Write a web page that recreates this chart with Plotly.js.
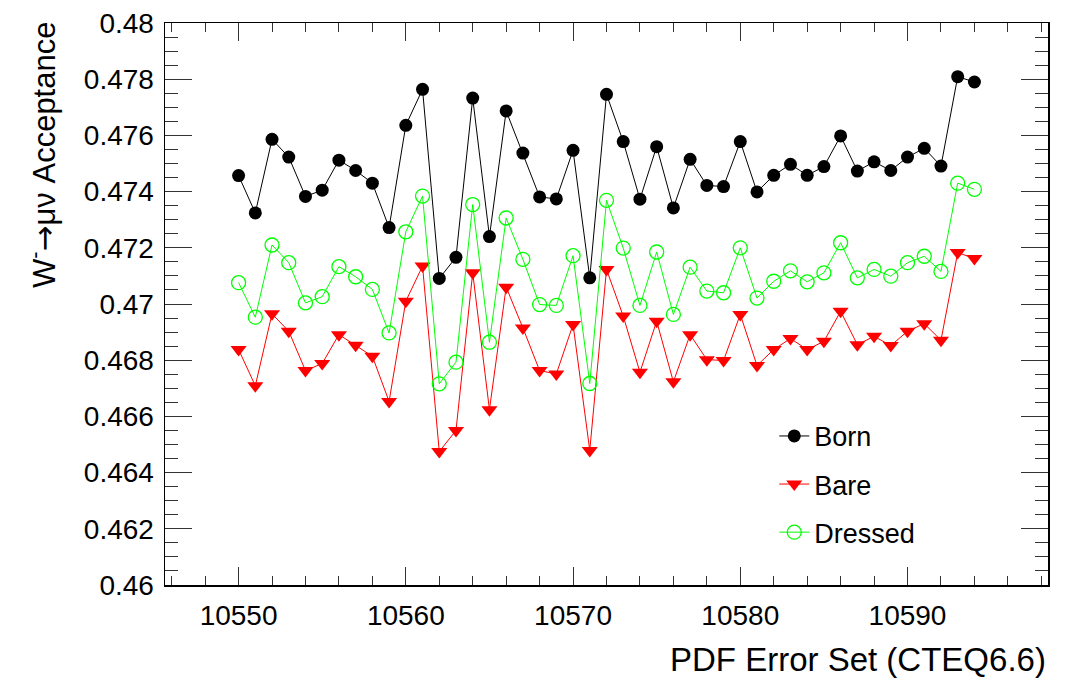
<!DOCTYPE html>
<html>
<head>
<meta charset="utf-8">
<script src="https://cdn.plot.ly/plotly-3.0.1.min.js"></script>
<style>
  html, body { margin: 0; padding: 0; background: #ffffff; }
  #chart { width: 1075px; height: 680px; }
</style>
</head>
<body>
<div id="chart"></div>
<script>
// PDF error set index (CTEQ6.6)
const errorSets = [
  10550, 10551, 10552, 10553, 10554, 10555, 10556, 10557, 10558, 10559,
  10560, 10561, 10562, 10563, 10564, 10565, 10566, 10567, 10568, 10569,
  10570, 10571, 10572, 10573, 10574, 10575, 10576, 10577, 10578, 10579,
  10580, 10581, 10582, 10583, 10584, 10585, 10586, 10587, 10588, 10589,
  10590, 10591, 10592, 10593, 10594
];

const born = [
  0.47457, 0.47324, 0.47586, 0.47523, 0.47383, 0.47405, 0.47512, 0.47475, 0.47430, 0.47272,
  0.47636, 0.47764, 0.47091, 0.47166, 0.47733, 0.47240, 0.47687, 0.47537, 0.47381, 0.47374,
  0.47547, 0.47093, 0.47746, 0.47578, 0.47373, 0.47560, 0.47342, 0.47515, 0.47422, 0.47418,
  0.47578, 0.47399, 0.47458, 0.47497, 0.47458, 0.47489, 0.47598, 0.47473, 0.47506, 0.47475,
  0.47523, 0.47554, 0.47491, 0.47809, 0.47790
];

const bare = [
  0.46838, 0.46709, 0.46965, 0.46903, 0.46763, 0.46788, 0.46891, 0.46853, 0.46814, 0.46653,
  0.47010, 0.47135, 0.46475, 0.46550, 0.47111, 0.46624, 0.47060, 0.46915, 0.46763, 0.46751,
  0.46927, 0.46479, 0.47123, 0.46957, 0.46757, 0.46939, 0.46723, 0.46891, 0.46802, 0.46799,
  0.46963, 0.46781, 0.46838, 0.46877, 0.46838, 0.46867, 0.46974, 0.46855, 0.46885, 0.46852,
  0.46903, 0.46930, 0.46871, 0.47183, 0.47162
];

const dressed = [
  0.47076, 0.46953, 0.47210, 0.47147, 0.47004, 0.47026, 0.47133, 0.47097, 0.47052, 0.46897,
  0.47257, 0.47384, 0.46716, 0.46793, 0.47354, 0.46864, 0.47306, 0.47159, 0.46998, 0.46995,
  0.47172, 0.46717, 0.47369, 0.47199, 0.46995, 0.47185, 0.46963, 0.47131, 0.47046, 0.47040,
  0.47200, 0.47021, 0.47081, 0.47118, 0.47079, 0.47111, 0.47218, 0.47093, 0.47123, 0.47099,
  0.47147, 0.47170, 0.47116, 0.47430, 0.47408
];

const xTickVals = [10550, 10560, 10570, 10580, 10590];
const yTickVals = [0.46, 0.462, 0.464, 0.466, 0.468, 0.47, 0.472, 0.474, 0.476, 0.478, 0.48];
const yTickText = ['0.46', '0.462', '0.464', '0.466', '0.468', '0.47', '0.472', '0.474', '0.476', '0.478', '0.48'];

const FONT = 'Liberation Sans, Arial, Helvetica, sans-serif';

const traces = [
  {
    x: errorSets, y: bare, name: 'Bare', type: 'scatter', mode: 'lines+markers',
    legendgroup: 'b', legendrank: 2,
    line: { color: '#ff0000', width: 1 },
    marker: { symbol: 'triangle-down', size: 14, color: '#ff0000' }
  },
  {
    x: errorSets, y: dressed, name: 'Dressed', type: 'scatter', mode: 'lines+markers',
    legendgroup: 'c', legendrank: 3,
    line: { color: '#00ff00', width: 1 },
    marker: { symbol: 'circle-open', size: 14, color: '#00ff00', line: { color: '#00ff00', width: 1.3 } }
  },
  {
    x: errorSets, y: born, name: 'Born', type: 'scatter', mode: 'lines+markers',
    legendgroup: 'a', legendrank: 1,
    line: { color: '#000000', width: 1 },
    marker: { symbol: 'circle', size: 13, color: '#000000' }
  }
];

const layout = {
  width: 1075, height: 680,
  paper_bgcolor: '#ffffff', plot_bgcolor: '#ffffff',
  margin: { l: 165, r: 27, t: 23, b: 95, pad: 0 },
  font: { family: FONT, color: '#000000', size: 28 },
  showlegend: true,
  legend: {
    x: 0.69, y: 0.308, xanchor: 'left', yanchor: 'top',
    bgcolor: 'rgba(0,0,0,0)', borderwidth: 0,
    font: { family: FONT, size: 27, color: '#000000' },
    traceorder: 'grouped', tracegroupgap: 10
  },
  xaxis: {
    range: [10545.6, 10598.4],
    tickmode: 'array', tickvals: xTickVals, ticktext: xTickVals.map(String),
    ticks: 'inside', ticklen: 18, tickwidth: 1, tickcolor: '#333333',
    minor: { dtick: 2, tick0: 10550, ticks: 'inside', ticklen: 9, tickwidth: 1, tickcolor: '#333333' },
    showline: true, linecolor: '#000000', linewidth: 1.5, mirror: 'ticks',
    showgrid: false, zeroline: false,
    tickfont: { family: FONT, size: 28, color: '#000000' },
    ticklabelstandoff: 5
  },
  yaxis: {
    range: [0.46, 0.48],
    tickmode: 'array', tickvals: yTickVals, ticktext: yTickText,
    ticks: 'inside', ticklen: 27, tickwidth: 1, tickcolor: '#333333',
    minor: { dtick: 0.0005, tick0: 0.46, ticks: 'inside', ticklen: 13, tickwidth: 1, tickcolor: '#333333' },
    showline: true, linecolor: '#000000', linewidth: 1.5, mirror: 'ticks',
    showgrid: false, zeroline: false,
    tickfont: { family: FONT, size: 28, color: '#000000' },
    ticklabelstandoff: 4
  },
  annotations: [
    {
      text: 'PDF Error Set (CTEQ6.6)',
      xref: 'paper', yref: 'paper', x: 1, y: 0, xanchor: 'right', yanchor: 'top',
      yshift: -54, showarrow: false,
      font: { family: FONT, size: 33, color: '#000000' }
    },
    {
      text: 'W<sup>-</sup><span style="font-family:DejaVu Sans">\u2192</span>\u03bc\u03bd Acceptance',
      xref: 'paper', yref: 'paper', x: 0, y: 1, xanchor: 'left', yanchor: 'top',
      xshift: -145, yshift: 3, textangle: -90, showarrow: false,
      font: { family: FONT, size: 31, color: '#000000' }
    }
  ]
};

Plotly.newPlot('chart', traces, layout, { displayModeBar: false, staticPlot: true });
</script>
</body>
</html>
